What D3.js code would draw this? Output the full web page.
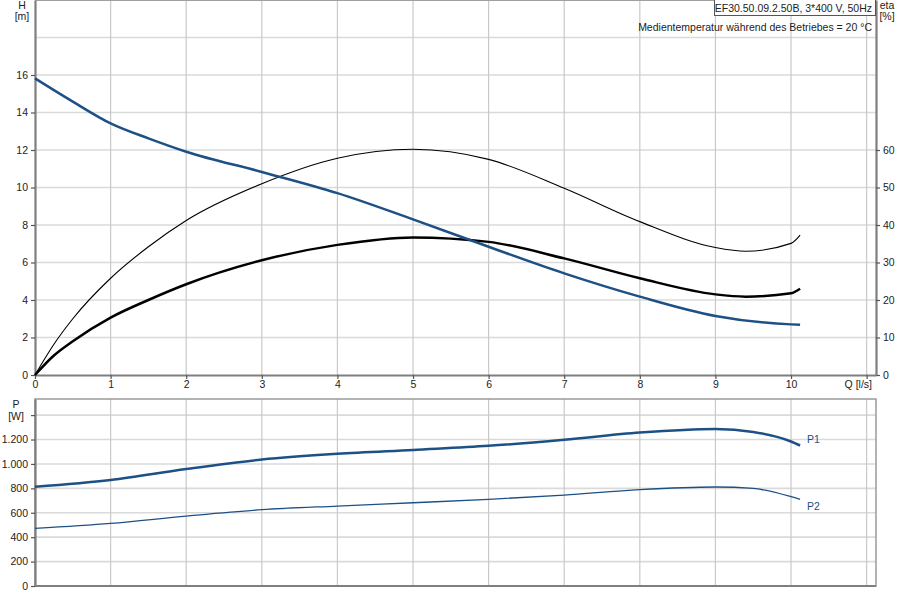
<!DOCTYPE html>
<html><head><meta charset="utf-8">
<script src="https://cdn.jsdelivr.net/npm/d3@7"></script>
<style>body{margin:0;background:#fff}svg{display:block}text{font-family:"Liberation Sans",Arial,sans-serif;font-size:10.5px;fill:#222}</style>
</head><body><svg id="c" width="900" height="600"></svg>
<script>
// ---- data ----
const qH   = [0, 0.5, 1, 1.5, 2, 3, 4, 5, 6, 7, 8, 9, 10, 10.12];
const hVal = [15.82, 14.58, 13.42, 12.62, 11.91, 10.83, 9.7, 8.3, 6.84, 5.42, 4.18, 3.15, 2.70, 2.68];
const qEta = [0, 0.25, 0.5, 1, 1.5, 2, 3, 4, 5, 6, 7, 8, 9, 9.4, 10, 10.12];
const etaPump  = [0, 8.2, 15.0, 25.8, 34.2, 41.2, 51.0, 57.8, 60.2, 57.5, 49.8, 40.9, 34.0, 33.0, 35.1, 37.3];
const etaTotal = [0, 5.2, 9.0, 15.3, 20.0, 24.2, 30.6, 34.7, 36.7, 35.5, 31.1, 25.8, 21.5, 20.9, 21.8, 23.0];
const qP   = [0, 1, 2, 3, 4, 5, 6, 7, 8, 9, 9.5, 10, 10.12];
const p1Val = [814, 869, 959, 1036, 1083, 1115, 1148, 1198, 1257, 1286, 1262, 1184, 1151];
const p2Val = [472, 513, 573, 625, 655, 682, 710, 745, 790, 811, 799, 732, 710];
const qTicks = [0,1,2,3,4,5,6,7,8,9,10];
const hTicks = [0,2,4,6,8,10,12,14,16];
const etaTicks = [0,10,20,30,40,50,60];
const pTicks = [0,200,400,600,800,1000,1200];
const title = "EF30.50.09.2.50B, 3*400 V, 50Hz";
const subtitle = "Medientemperatur während des Betriebes = 20 °C";

// ---- layout ----
const svg = d3.select("#c");
const L = 35, R = 876;
const x = d3.scaleLinear().domain([0, 11.124]).range([L, R]);
const yH = d3.scaleLinear().domain([0, 20]).range([375, 0]);
const yE = d3.scaleLinear().domain([0, 100]).range([375, 0]);
const yP = d3.scaleLinear().domain([0, 1532]).range([586, 399]);
const blue = "#1d5186";
const gridH = "#dadada", gridV = "#c9c9c9", axisC = "#7f7f7f";

// top panel grid
const gTop = svg.append("g");
gTop.selectAll("line.gh").data(d3.range(2, 20, 2)).join("line")
  .attr("x1", L).attr("x2", R).attr("y1", d=>yH(d)).attr("y2", d=>yH(d))
  .attr("stroke", gridH).attr("stroke-width", 1.6);
gTop.selectAll("line.gv").data(d3.range(1, 12)).join("line")
  .attr("x1", d=>x(d)).attr("x2", d=>x(d)).attr("y1", 0).attr("y2", 375)
  .attr("stroke", gridV).attr("stroke-width", 1.2);
gTop.append("line").attr("x1", L).attr("x2", R).attr("y1", 0.5).attr("y2", 0.5).attr("stroke", "#a0a0a0");

// bottom panel grid
const gBot = svg.append("g");
gBot.selectAll("line.gh").data(d3.range(200, 1600, 200)).join("line")
  .attr("x1", L).attr("x2", R).attr("y1", d=>yP(d)).attr("y2", d=>yP(d))
  .attr("stroke", gridH).attr("stroke-width", 1.6);
gBot.selectAll("line.gv").data(d3.range(1, 12)).join("line")
  .attr("x1", d=>x(d)).attr("x2", d=>x(d)).attr("y1", 399).attr("y2", 586)
  .attr("stroke", gridV).attr("stroke-width", 1.2);
gBot.append("rect").attr("x", L).attr("y", 399).attr("width", R-L).attr("height", 187)
  .attr("fill", "none").attr("stroke", "#9a9a9a").attr("stroke-width", 1.5);

// axes
function styleAxis(g){
  g.select(".domain").attr("stroke", axisC).attr("stroke-width", 2.2);
  g.selectAll(".tick line").attr("stroke", "#555").attr("stroke-width", 1.2);
  g.selectAll(".tick text").style("font-family", "Liberation Sans, Arial, sans-serif").style("font-size", "10.5px").attr("fill", "#222");
}
const fmtDE = d => d3.format(",")(d).replace(/,/g, ".");
svg.append("g").attr("transform", `translate(${L},0)`)
  .call(d3.axisLeft(yH).tickValues(hTicks).tickSize(4).tickSizeOuter(0).tickPadding(3))
  .call(styleAxis);
svg.append("g").attr("transform", `translate(${R},0)`)
  .call(d3.axisRight(yE).tickValues(etaTicks).tickSize(4).tickSizeOuter(0).tickPadding(3))
  .call(styleAxis);
svg.append("g").attr("transform", `translate(0,375)`)
  .call(d3.axisBottom(x).tickValues(qTicks.concat([11])).tickFormat(d => d===11 ? "" : d).tickSize(4).tickSizeOuter(0).tickPadding(2))
  .call(styleAxis);
svg.append("g").attr("transform", `translate(${L},0)`)
  .call(d3.axisLeft(yP).tickValues(pTicks.concat([1400])).tickFormat(d => d===1400 ? "" : fmtDE(d)).tickSize(4).tickSizeOuter(0).tickPadding(3))
  .call(styleAxis);
svg.append("line").attr("x1", L).attr("x2", R).attr("y1", 586).attr("y2", 586).attr("stroke", axisC).attr("stroke-width", 2.2);

// curves
const curve = d3.curveMonotoneX;
const lineH = d3.line().x((d,i)=>x(qH[i])).y(d=>yH(d)).curve(curve);
const lineE = d3.line().x((d,i)=>x(qEta[i])).y(d=>yE(d)).curve(curve);
const lineP = d3.line().x((d,i)=>x(qP[i])).y(d=>yP(d)).curve(curve);
svg.append("path").attr("d", lineE(etaPump)).attr("fill","none").attr("stroke","#000").attr("stroke-width",1.1);
svg.append("path").attr("d", lineE(etaTotal)).attr("fill","none").attr("stroke","#000").attr("stroke-width",2.5);
svg.append("path").attr("d", lineH(hVal)).attr("fill","none").attr("stroke",blue).attr("stroke-width",2.5);
svg.append("path").attr("d", lineP(p1Val)).attr("fill","none").attr("stroke",blue).attr("stroke-width",2.5);
svg.append("path").attr("d", lineP(p2Val)).attr("fill","none").attr("stroke",blue).attr("stroke-width",1.3);

// labels
svg.append("text").attr("x", x(10.12)+7).attr("y", yP(p1Val[p1Val.length-1])-3).style("fill", blue).text("P1");
svg.append("text").attr("x", x(10.12)+7).attr("y", yP(p2Val[p2Val.length-1])+11).style("fill", blue).text("P2");
svg.append("text").attr("x", 22).attr("y", 9).attr("text-anchor","middle").text("H");
svg.append("text").attr("x", 22).attr("y", 20).attr("text-anchor","middle").text("[m]");
svg.append("text").attr("x", 887).attr("y", 9).attr("text-anchor","middle").text("eta");
svg.append("text").attr("x", 887).attr("y", 20).attr("text-anchor","middle").text("[%]");
svg.append("text").attr("x", 16).attr("y", 408).attr("text-anchor","middle").text("P");
svg.append("text").attr("x", 16).attr("y", 420).attr("text-anchor","middle").text("[W]");
svg.append("text").attr("x", 872).attr("y", 388).attr("text-anchor","end").text("Q [l/s]");

// header
svg.append("rect").attr("x", 714.5).attr("y", -1).attr("width", 161).attr("height", 16.5)
  .attr("fill", "#fff").attr("stroke", "#555").attr("stroke-width", 1);
svg.append("text").attr("x", 872).attr("y", 11.5).attr("text-anchor","end").text(title);
svg.append("text").attr("x", 872).attr("y", 30.5).attr("text-anchor","end").text(subtitle);
</script></body></html>
